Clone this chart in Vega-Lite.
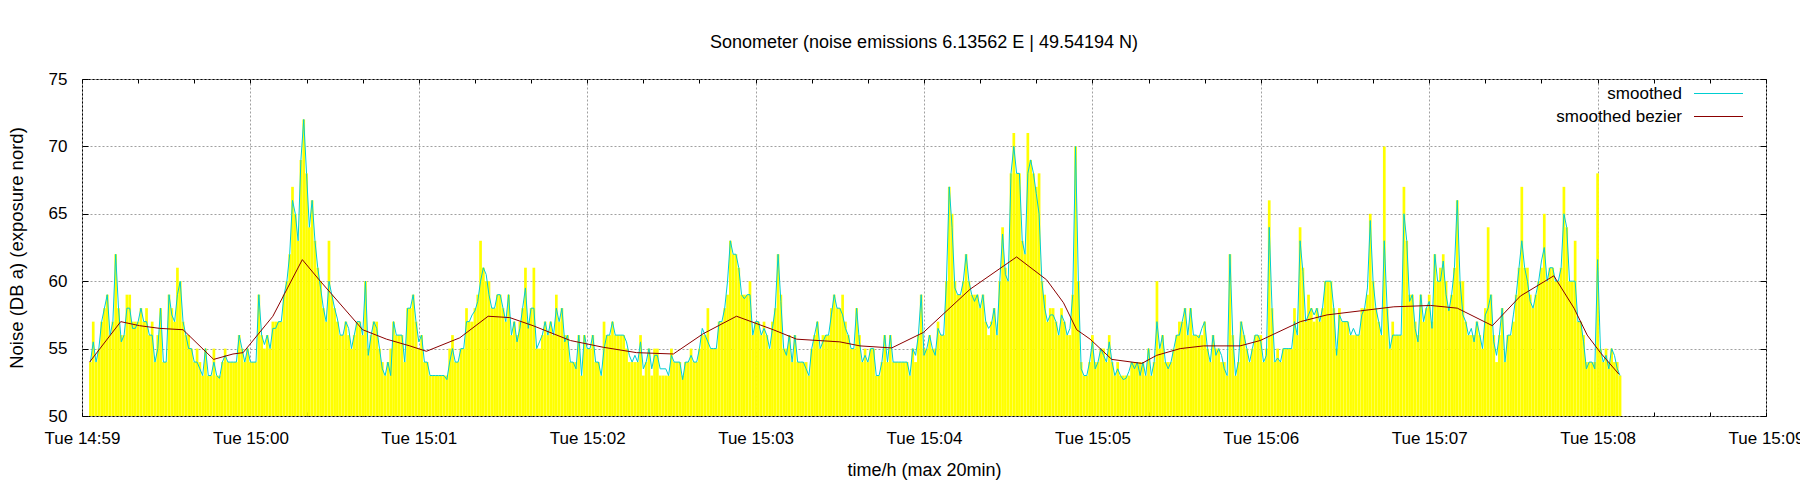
{
  "$schema": "https://vega.github.io/schema/vega-lite/v6.json",
  "width": 1684,
  "height": 337,
  "autosize": {"type": "none"},
  "padding": {"left": 82, "top": 79, "right": 34, "bottom": 84},
  "background": "white",
  "config": {
    "view": {"stroke": "black", "strokeWidth": 1},
    "font": "Liberation Sans"
  },
  "title": {
    "text": "Sonometer (noise emissions 6.13562 E | 49.54194 N)",
    "font": "Liberation Sans",
    "fontSize": 18,
    "fontWeight": "normal",
    "color": "black",
    "anchor": "middle",
    "offset": 18
  },
  "datasets": {
    "noise": [
      {"t":3,"v":54,"s":54},{"t":4,"v":57,"s":55.5},{"t":5,"v":54,"s":54},{"t":6,"v":55,"s":55},{"t":7,"v":57,"s":57},{"t":8,"v":58,"s":58},{"t":9,"v":59,"s":59},{"t":10,"v":56,"s":56},{"t":11,"v":57,"s":57},{"t":12,"v":62,"s":62},
      {"t":13,"v":58,"s":58},{"t":14,"v":56,"s":55.5},{"t":15,"v":56,"s":56},{"t":16,"v":59,"s":58},{"t":17,"v":59,"s":58},{"t":18,"v":57,"s":56.5},{"t":19,"v":57,"s":56.5},{"t":20,"v":57,"s":57},{"t":21,"v":58,"s":58},{"t":22,"v":57,"s":57},
      {"t":23,"v":58,"s":57},{"t":24,"v":56,"s":56},{"t":25,"v":57,"s":56},{"t":26,"v":54,"s":54},{"t":27,"v":56,"s":55},{"t":28,"v":58,"s":58},{"t":29,"v":54,"s":54},{"t":30,"v":54,"s":54},{"t":31,"v":59,"s":59},{"t":32,"v":58,"s":57.5},
      {"t":33,"v":57,"s":57},{"t":34,"v":61,"s":59},{"t":35,"v":60,"s":60},{"t":36,"v":57,"s":57},{"t":37,"v":56,"s":56},{"t":38,"v":56,"s":55},{"t":39,"v":55,"s":55},{"t":40,"v":54,"s":54},{"t":41,"v":55,"s":54},{"t":42,"v":54,"s":53.5},
      {"t":43,"v":53,"s":53},{"t":44,"v":55,"s":55},{"t":45,"v":53,"s":53},{"t":46,"v":53,"s":53},{"t":47,"v":55,"s":54},{"t":48,"v":53,"s":53},{"t":49,"v":53,"s":52.8},{"t":50,"v":54,"s":54},{"t":51,"v":55,"s":54.5},{"t":52,"v":54,"s":54},
      {"t":53,"v":54,"s":54},{"t":54,"v":54,"s":54},{"t":55,"v":54,"s":54},{"t":56,"v":56,"s":56},{"t":57,"v":55,"s":55},{"t":58,"v":54,"s":54},{"t":59,"v":55,"s":55},{"t":60,"v":54,"s":54},{"t":61,"v":54,"s":54},{"t":62,"v":54,"s":54},
      {"t":63,"v":59,"s":59},{"t":64,"v":56,"s":56},{"t":65,"v":55,"s":55.3},{"t":66,"v":56,"s":56},{"t":67,"v":55,"s":55},{"t":68,"v":57,"s":56.5},{"t":69,"v":57,"s":56.5},{"t":70,"v":57,"s":57},{"t":71,"v":57,"s":57},{"t":72,"v":59,"s":59},
      {"t":73,"v":60,"s":60},{"t":74,"v":62,"s":62},{"t":75,"v":67,"s":66},{"t":76,"v":65,"s":65},{"t":77,"v":63,"s":63},{"t":78,"v":69,"s":69},{"t":79,"v":72,"s":72},{"t":80,"v":68,"s":68},{"t":81,"v":64,"s":64},{"t":82,"v":66,"s":66},
      {"t":83,"v":63,"s":63},{"t":84,"v":61,"s":61},{"t":85,"v":60,"s":59.5},{"t":86,"v":58,"s":58},{"t":87,"v":57,"s":57},{"t":88,"v":63,"s":60},{"t":89,"v":59,"s":59},{"t":90,"v":58,"s":58},{"t":91,"v":57,"s":57.2},{"t":92,"v":56,"s":56},
      {"t":93,"v":56,"s":56},{"t":94,"v":57,"s":57},{"t":95,"v":56,"s":56.5},{"t":96,"v":55,"s":55},{"t":97,"v":56,"s":56},{"t":98,"v":57,"s":57},{"t":99,"v":57,"s":57},{"t":100,"v":56,"s":56},{"t":101,"v":60,"s":60},{"t":102,"v":55,"s":54.5},
      {"t":103,"v":56,"s":56},{"t":104,"v":57,"s":57},{"t":105,"v":57,"s":56.5},{"t":106,"v":55,"s":55},{"t":107,"v":54,"s":53.5},{"t":108,"v":53,"s":53},{"t":109,"v":54,"s":54},{"t":110,"v":55,"s":53},{"t":111,"v":57,"s":57},{"t":112,"v":56,"s":56},
      {"t":113,"v":56,"s":56},{"t":114,"v":56,"s":56},{"t":115,"v":54,"s":54},{"t":116,"v":58,"s":58},{"t":117,"v":58,"s":58},{"t":118,"v":59,"s":59},{"t":119,"v":57,"s":57},{"t":120,"v":55,"s":55.5},{"t":121,"v":56,"s":56},{"t":122,"v":54,"s":54},
      {"t":123,"v":54,"s":54},{"t":124,"v":53,"s":53},{"t":125,"v":53,"s":53},{"t":126,"v":53,"s":53},{"t":127,"v":53,"s":53},{"t":128,"v":53,"s":53},{"t":129,"v":53,"s":53},{"t":130,"v":53,"s":52.7},{"t":131,"v":55,"s":54},{"t":132,"v":56,"s":55},
      {"t":133,"v":54,"s":54},{"t":134,"v":54,"s":54},{"t":135,"v":55,"s":55},{"t":136,"v":55,"s":55},{"t":137,"v":58,"s":57},{"t":138,"v":57,"s":57},{"t":139,"v":57,"s":57.5},{"t":140,"v":58,"s":57.8},{"t":141,"v":59,"s":58.5},{"t":142,"v":63,"s":60},
      {"t":143,"v":61,"s":61},{"t":144,"v":60,"s":60.5},{"t":145,"v":60,"s":59},{"t":146,"v":58,"s":58},{"t":147,"v":58,"s":58},{"t":148,"v":59,"s":59},{"t":149,"v":59,"s":59},{"t":150,"v":58,"s":58},{"t":151,"v":57,"s":57},{"t":152,"v":59,"s":59},
      {"t":153,"v":56,"s":56},{"t":154,"v":57,"s":57},{"t":155,"v":56,"s":55.5},{"t":156,"v":57,"s":56.5},{"t":157,"v":58,"s":58},{"t":158,"v":61,"s":59.5},{"t":159,"v":57,"s":56.5},{"t":160,"v":58,"s":58},{"t":161,"v":61,"s":58},{"t":162,"v":55,"s":55},
      {"t":163,"v":55,"s":55.5},{"t":164,"v":56,"s":56},{"t":165,"v":57,"s":57},{"t":166,"v":56,"s":56},{"t":167,"v":57,"s":57},{"t":168,"v":56,"s":56},{"t":169,"v":59,"s":58},{"t":170,"v":57,"s":57},{"t":171,"v":58,"s":58},{"t":172,"v":56,"s":55.5},
      {"t":173,"v":56,"s":56},{"t":174,"v":54,"s":54},{"t":175,"v":54,"s":54},{"t":176,"v":54,"s":53.5},{"t":177,"v":56,"s":56},{"t":178,"v":53,"s":53},{"t":179,"v":56,"s":56},{"t":180,"v":55,"s":55},{"t":181,"v":55,"s":55},{"t":182,"v":56,"s":56},
      {"t":183,"v":54,"s":54},{"t":184,"v":54,"s":54},{"t":185,"v":53,"s":53},{"t":186,"v":57,"s":55},{"t":187,"v":56,"s":56},{"t":188,"v":56,"s":56},{"t":189,"v":57,"s":57},{"t":190,"v":56,"s":56},{"t":191,"v":56,"s":56},{"t":192,"v":56,"s":56},
      {"t":193,"v":56,"s":56},{"t":194,"v":55,"s":55.5},{"t":195,"v":54,"s":54.5},{"t":196,"v":54,"s":54},{"t":197,"v":54,"s":54.5},{"t":198,"v":54,"s":54},{"t":199,"v":56,"s":55.5},{"t":200,"v":53,"s":53.5},{"t":201,"v":54,"s":54},{"t":202,"v":55,"s":55},
      {"t":203,"v":53,"s":53.5},{"t":204,"v":55,"s":54.5},{"t":205,"v":55,"s":54.5},{"t":206,"v":53,"s":53.5},{"t":207,"v":53,"s":53.5},{"t":208,"v":53,"s":53.5},{"t":209,"v":53,"s":53},{"t":210,"v":55,"s":54.5},{"t":211,"v":54,"s":54},{"t":212,"v":54,"s":54},
      {"t":213,"v":54,"s":54},{"t":214,"v":53,"s":52.7},{"t":215,"v":54,"s":54},{"t":216,"v":54,"s":54},{"t":217,"v":55,"s":54.5},{"t":218,"v":54,"s":54},{"t":219,"v":54,"s":54},{"t":220,"v":55,"s":55},{"t":221,"v":56,"s":56.5},{"t":222,"v":56,"s":56},
      {"t":223,"v":58,"s":55.5},{"t":224,"v":55,"s":55},{"t":225,"v":55,"s":55},{"t":226,"v":55,"s":55},{"t":227,"v":57,"s":57},{"t":228,"v":57,"s":57},{"t":229,"v":58,"s":58},{"t":230,"v":59,"s":60},{"t":231,"v":63,"s":63},{"t":232,"v":62,"s":62},
      {"t":233,"v":62,"s":62},{"t":234,"v":61,"s":61},{"t":235,"v":59,"s":59},{"t":236,"v":59,"s":58.7},{"t":237,"v":59,"s":59},{"t":238,"v":60,"s":59},{"t":239,"v":56,"s":56},{"t":240,"v":57,"s":57},{"t":241,"v":57,"s":57},{"t":242,"v":56,"s":56},
      {"t":243,"v":57,"s":56.5},{"t":244,"v":56,"s":56},{"t":245,"v":55,"s":55},{"t":246,"v":57,"s":56.5},{"t":247,"v":58,"s":58},{"t":248,"v":62,"s":62},{"t":249,"v":59,"s":58.5},{"t":250,"v":55,"s":55},{"t":251,"v":55,"s":54.5},{"t":252,"v":56,"s":56},
      {"t":253,"v":54,"s":54},{"t":254,"v":56,"s":56},{"t":255,"v":54,"s":54},{"t":256,"v":54,"s":54},{"t":257,"v":54,"s":54},{"t":258,"v":54,"s":53.5},{"t":259,"v":53,"s":53},{"t":260,"v":55,"s":55},{"t":261,"v":56,"s":56},{"t":262,"v":57,"s":57},
      {"t":263,"v":55,"s":55},{"t":264,"v":56,"s":55.5},{"t":265,"v":56,"s":56},{"t":266,"v":56,"s":56},{"t":267,"v":58,"s":57.5},{"t":268,"v":59,"s":59},{"t":269,"v":58,"s":58},{"t":270,"v":58,"s":58},{"t":271,"v":59,"s":57.5},{"t":272,"v":57,"s":56.5},
      {"t":273,"v":56,"s":56},{"t":274,"v":55,"s":55},{"t":275,"v":55,"s":55},{"t":276,"v":58,"s":58},{"t":277,"v":56,"s":55.5},{"t":278,"v":54,"s":54},{"t":279,"v":55,"s":54.5},{"t":280,"v":54,"s":54},{"t":281,"v":55,"s":55},{"t":282,"v":55,"s":55},
      {"t":283,"v":53,"s":53},{"t":284,"v":53,"s":53},{"t":285,"v":54,"s":54},{"t":286,"v":56,"s":56},{"t":287,"v":54,"s":54},{"t":288,"v":56,"s":56},{"t":289,"v":54,"s":54},{"t":290,"v":54,"s":54},{"t":291,"v":54,"s":54},{"t":292,"v":54,"s":54},
      {"t":293,"v":54,"s":54},{"t":294,"v":54,"s":54},{"t":295,"v":53,"s":53},{"t":296,"v":55,"s":55},{"t":297,"v":54,"s":54.5},{"t":298,"v":56,"s":56},{"t":299,"v":59,"s":59},{"t":300,"v":55,"s":54.5},{"t":301,"v":55,"s":55},{"t":302,"v":56,"s":56},
      {"t":303,"v":55,"s":55},{"t":304,"v":55,"s":54.5},{"t":305,"v":57,"s":56.5},{"t":306,"v":56,"s":56},{"t":307,"v":56,"s":56},{"t":308,"v":60,"s":60},{"t":309,"v":67,"s":67},{"t":310,"v":65,"s":64},{"t":311,"v":60,"s":59.5},{"t":312,"v":59,"s":59},
      {"t":313,"v":59,"s":59},{"t":314,"v":60,"s":60},{"t":315,"v":62,"s":62},{"t":316,"v":60,"s":60},{"t":317,"v":59,"s":59},{"t":318,"v":59,"s":58.5},{"t":319,"v":59,"s":59},{"t":320,"v":58,"s":58},{"t":321,"v":59,"s":59},{"t":322,"v":57,"s":57},
      {"t":323,"v":56,"s":56.5},{"t":324,"v":57,"s":56.8},{"t":325,"v":58,"s":58},{"t":326,"v":56,"s":56},{"t":327,"v":60,"s":60},{"t":328,"v":64,"s":63.5},{"t":329,"v":61,"s":60.5},{"t":330,"v":60,"s":60},{"t":331,"v":68,"s":68},{"t":332,"v":71,"s":70},
      {"t":333,"v":68,"s":68},{"t":334,"v":68,"s":68},{"t":335,"v":63,"s":63},{"t":336,"v":62,"s":62},{"t":337,"v":71,"s":68},{"t":338,"v":69,"s":69},{"t":339,"v":68,"s":68},{"t":340,"v":67,"s":66.5},{"t":341,"v":68,"s":65},{"t":342,"v":60,"s":60},
      {"t":343,"v":59,"s":58},{"t":344,"v":57,"s":57},{"t":345,"v":58,"s":57.5},{"t":346,"v":58,"s":57.5},{"t":347,"v":57,"s":57},{"t":348,"v":56,"s":56},{"t":349,"v":58,"s":57.5},{"t":350,"v":57,"s":57},{"t":351,"v":56,"s":56},{"t":352,"v":56,"s":56.5},
      {"t":353,"v":59,"s":59},{"t":354,"v":70,"s":70},{"t":355,"v":60,"s":60},{"t":356,"v":54,"s":53.5},{"t":357,"v":53,"s":53},{"t":358,"v":53,"s":53},{"t":359,"v":54,"s":54},{"t":360,"v":56,"s":55.5},{"t":361,"v":54,"s":53.5},{"t":362,"v":54,"s":54},
      {"t":363,"v":55,"s":55},{"t":364,"v":55,"s":54.5},{"t":365,"v":54,"s":54},{"t":366,"v":56,"s":55.5},{"t":367,"v":54,"s":54},{"t":368,"v":53,"s":53},{"t":369,"v":54,"s":53.5},{"t":370,"v":53,"s":53},{"t":371,"v":53,"s":52.7},{"t":372,"v":53,"s":52.8},
      {"t":373,"v":53,"s":53.3},{"t":374,"v":54,"s":54},{"t":375,"v":54,"s":53.5},{"t":376,"v":54,"s":54},{"t":377,"v":54,"s":53},{"t":378,"v":54,"s":54},{"t":379,"v":53,"s":53},{"t":380,"v":55,"s":55},{"t":381,"v":53,"s":53},{"t":382,"v":54,"s":54},
      {"t":383,"v":60,"s":57},{"t":384,"v":55,"s":55},{"t":385,"v":56,"s":56},{"t":386,"v":54,"s":54},{"t":387,"v":54,"s":53.5},{"t":388,"v":54,"s":54},{"t":389,"v":55,"s":55},{"t":390,"v":56,"s":56},{"t":391,"v":57,"s":56},{"t":392,"v":57,"s":57},
      {"t":393,"v":58,"s":58},{"t":394,"v":56,"s":56},{"t":395,"v":58,"s":58},{"t":396,"v":56,"s":56},{"t":397,"v":56,"s":56},{"t":398,"v":56,"s":55.8},{"t":399,"v":56,"s":56.5},{"t":400,"v":57,"s":57},{"t":401,"v":55,"s":55},{"t":402,"v":54,"s":54},
      {"t":403,"v":56,"s":56},{"t":404,"v":55,"s":54.5},{"t":405,"v":55,"s":55},{"t":406,"v":54,"s":54.5},{"t":407,"v":54,"s":53.5},{"t":408,"v":53,"s":53},{"t":409,"v":62,"s":62},{"t":410,"v":56,"s":56},{"t":411,"v":53,"s":53},{"t":412,"v":54,"s":54},
      {"t":413,"v":57,"s":57},{"t":414,"v":56,"s":56},{"t":415,"v":55,"s":55},{"t":416,"v":54,"s":54},{"t":417,"v":55,"s":55},{"t":418,"v":56,"s":56},{"t":419,"v":56,"s":56},{"t":420,"v":56,"s":55.5},{"t":421,"v":54,"s":54},{"t":422,"v":55,"s":54.5},
      {"t":423,"v":66,"s":64},{"t":424,"v":58,"s":58},{"t":425,"v":54,"s":54},{"t":426,"v":55,"s":54.3},{"t":427,"v":54,"s":54},{"t":428,"v":55,"s":55},{"t":429,"v":55,"s":55},{"t":430,"v":55,"s":55},{"t":431,"v":55,"s":55},{"t":432,"v":58,"s":57},
      {"t":433,"v":56,"s":56},{"t":434,"v":64,"s":63},{"t":435,"v":61,"s":60.7},{"t":436,"v":57,"s":57},{"t":437,"v":59,"s":57.5},{"t":438,"v":58,"s":58},{"t":439,"v":57,"s":57.5},{"t":440,"v":58,"s":58},{"t":441,"v":57,"s":57},{"t":442,"v":58,"s":58},
      {"t":443,"v":60,"s":60},{"t":444,"v":60,"s":60},{"t":445,"v":60,"s":60},{"t":446,"v":58,"s":58},{"t":447,"v":55,"s":54.5},{"t":448,"v":58,"s":57.5},{"t":449,"v":57,"s":57},{"t":450,"v":57,"s":57},{"t":451,"v":57,"s":57},{"t":452,"v":56,"s":56},
      {"t":453,"v":56,"s":56.5},{"t":454,"v":56,"s":56},{"t":455,"v":56,"s":56},{"t":456,"v":58,"s":57.5},{"t":457,"v":58,"s":58},{"t":458,"v":59,"s":59.5},{"t":459,"v":65,"s":64.5},{"t":460,"v":60,"s":60},{"t":461,"v":58,"s":58},{"t":462,"v":57,"s":57},
      {"t":463,"v":56,"s":56},{"t":464,"v":70,"s":63},{"t":465,"v":58,"s":58},{"t":466,"v":55,"s":55},{"t":467,"v":57,"s":56},{"t":468,"v":56,"s":56},{"t":469,"v":56,"s":56},{"t":470,"v":56,"s":56},{"t":471,"v":67,"s":65},{"t":472,"v":63,"s":63},
      {"t":473,"v":59,"s":58.5},{"t":474,"v":59,"s":59},{"t":475,"v":57,"s":56.5},{"t":476,"v":56,"s":55.5},{"t":477,"v":59,"s":59},{"t":478,"v":57,"s":57},{"t":479,"v":58,"s":58},{"t":480,"v":59,"s":58.5},{"t":481,"v":57,"s":56.5},{"t":482,"v":62,"s":62},
      {"t":483,"v":60,"s":60},{"t":484,"v":61,"s":60},{"t":485,"v":62,"s":61.5},{"t":486,"v":60,"s":59},{"t":487,"v":58,"s":57.8},{"t":488,"v":59,"s":59},{"t":489,"v":61,"s":61},{"t":490,"v":66,"s":66},{"t":491,"v":60,"s":60},{"t":492,"v":60,"s":57.5},
      {"t":493,"v":57,"s":57},{"t":494,"v":56,"s":56},{"t":495,"v":56,"s":56.5},{"t":496,"v":56,"s":55.5},{"t":497,"v":57,"s":57},{"t":498,"v":56,"s":56},{"t":499,"v":55,"s":55},{"t":500,"v":58,"s":57.5},{"t":501,"v":64,"s":58},{"t":502,"v":59,"s":59},
      {"t":503,"v":56,"s":55.5},{"t":504,"v":54,"s":54.5},{"t":505,"v":56,"s":56},{"t":506,"v":58,"s":58},{"t":507,"v":54,"s":54},{"t":508,"v":56,"s":56},{"t":509,"v":56,"s":56},{"t":510,"v":57,"s":57.5},{"t":511,"v":59,"s":59},{"t":512,"v":61,"s":61},
      {"t":513,"v":67,"s":63},{"t":514,"v":61,"s":61},{"t":515,"v":61,"s":60},{"t":516,"v":59,"s":58.5},{"t":517,"v":58,"s":58},{"t":518,"v":59,"s":59},{"t":519,"v":60,"s":60},{"t":520,"v":61,"s":61.5},{"t":521,"v":65,"s":62.5},{"t":522,"v":60,"s":60},
      {"t":523,"v":61,"s":61},{"t":524,"v":61,"s":61},{"t":525,"v":60,"s":60},{"t":526,"v":60,"s":60},{"t":527,"v":61,"s":61},{"t":528,"v":67,"s":65},{"t":529,"v":64,"s":64},{"t":530,"v":60,"s":60},{"t":531,"v":60,"s":60},{"t":532,"v":63,"s":60},
      {"t":533,"v":57,"s":57},{"t":534,"v":57,"s":57},{"t":535,"v":56,"s":55.5},{"t":536,"v":54,"s":53.5},{"t":537,"v":54,"s":54},{"t":538,"v":54,"s":54},{"t":539,"v":54,"s":53.5},{"t":540,"v":68,"s":61.6},{"t":541,"v":55,"s":55},{"t":542,"v":54,"s":54},
      {"t":543,"v":55,"s":54.5},{"t":544,"v":54,"s":53.5},{"t":545,"v":55,"s":55},{"t":546,"v":54,"s":54.5},{"t":547,"v":54,"s":53.5},{"t":548,"v":53,"s":53}
    ],
    "bezier": [
      {"t":2.7,"b":54},{"t":13.8,"b":57},{"t":20.5,"b":56.7},{"t":27.7,"b":56.5},{"t":36,"b":56.4},{"t":46.9,"b":54.2},{"t":53.8,"b":54.6},{"t":57.4,"b":54.7},
      {"t":68,"b":57.4},{"t":78.5,"b":61.6},{"t":84.5,"b":60.1},{"t":100,"b":56.4},{"t":108.5,"b":55.7},{"t":116.8,"b":55.2},{"t":122.7,"b":54.8},{"t":134.6,"b":55.8},
      {"t":144.7,"b":57.4},{"t":152.4,"b":57.3},{"t":160.7,"b":56.7},{"t":174,"b":55.6},{"t":185.7,"b":55.1},{"t":197.6,"b":54.7},{"t":210.7,"b":54.6},{"t":221.3,"b":56.1},
      {"t":233.2,"b":57.4},{"t":246.3,"b":56.4},{"t":254.6,"b":55.7},{"t":270,"b":55.5},{"t":277.2,"b":55.2},{"t":288.5,"b":55.05},{"t":299.8,"b":56.2},{"t":316.4,"b":59.4},
      {"t":333,"b":61.8},{"t":343.7,"b":60.1},{"t":349.7,"b":58.4},{"t":354.4,"b":56.4},{"t":359.2,"b":55.7},{"t":366.9,"b":54.2},{"t":377.6,"b":53.9},{"t":382.9,"b":54.5},
      {"t":391.3,"b":55},{"t":399.6,"b":55.2},{"t":412.6,"b":55.2},{"t":419.8,"b":55.6},{"t":434.1,"b":57},{"t":443.6,"b":57.5},{"t":455.5,"b":57.8},{"t":467.4,"b":58.1},
      {"t":480.5,"b":58.2},{"t":490,"b":58},{"t":502.5,"b":56.7},{"t":512.5,"b":58.9},{"t":524.4,"b":60.4},{"t":531.6,"b":58},{"t":536.3,"b":56},{"t":541,"b":54.7},{"t":547.6,"b":53.1}
    ]
  },
  "layer": [
    {
      "data": {"name": "noise"},
      "mark": {"type": "rule", "color": "#ffff00", "strokeWidth": 2.7},
      "encoding": {
        "x": {
          "field": "t",
          "type": "quantitative",
          "scale": {"domain": [0, 600], "nice": false, "zero": false},
          "axis": {
            "orient": "bottom",
            "values": [0, 60, 120, 180, 240, 300, 360, 420, 480, 540, 600],
            "labelExpr": "'Tue ' + (datum.value < 60 ? '14:59' : '15:0' + (datum.value / 60 - 1))",
            "ticks": false,
            "domain": false,
            "grid": true,
            "gridColor": "#a0a0a0",
            "gridDash": [2, 2],
            "gridWidth": 1,
            "labelFont": "Liberation Sans",
            "labelFontSize": 17,
            "labelColor": "black",
            "labelPadding": 14,
            "labelFlush": false,
            "labelOverlap": false,
            "title": "time/h (max 20min)",
            "titleFont": "Liberation Sans",
            "titleFontSize": 18,
            "titleFontWeight": "normal",
            "titleColor": "black",
            "titlePadding": 15
          }
        },
        "y": {
          "field": "v",
          "type": "quantitative",
          "scale": {"domain": [50, 75], "nice": false, "zero": false},
          "axis": {
            "orient": "left",
            "values": [50, 55, 60, 65, 70, 75],
            "ticks": false,
            "domain": false,
            "grid": true,
            "gridColor": "#a0a0a0",
            "gridDash": [2, 2],
            "gridWidth": 1,
            "labelFont": "Liberation Sans",
            "labelFontSize": 17,
            "labelColor": "black",
            "labelPadding": 15,
            "labelFlush": false,
            "title": "Noise (DB a) (exposure nord)",
            "titleFont": "Liberation Sans",
            "titleFontSize": 18.5,
            "titleFontWeight": "normal",
            "titleColor": "black",
            "titlePadding": 22
          }
        },
        "y2": {"datum": 50}
      }
    },
    {
      "data": {"name": "noise"},
      "mark": {"type": "line", "strokeWidth": 1},
      "encoding": {
        "x": {
          "field": "t",
          "type": "quantitative",
          "axis": {
            "orient": "top",
            "values": [0, 20, 40, 60, 80, 100, 120, 140, 160, 180, 200, 220, 240, 260, 280, 300, 320, 340, 360, 380, 400, 420, 440, 460, 480, 500, 520, 540, 560, 580, 600],
            "ticks": true,
            "tickSize": -4,
            "tickColor": "black",
            "labels": false,
            "domain": false,
            "grid": false,
            "title": null
          }
        },
        "y": {
          "field": "s",
          "type": "quantitative",
          "axis": {
            "orient": "right",
            "values": [50, 55, 60, 65, 70, 75],
            "ticks": true,
            "tickSize": -6,
            "tickColor": "black",
            "labels": false,
            "domain": false,
            "grid": false,
            "title": null
          }
        },
        "color": {
          "datum": "smoothed",
          "type": "nominal",
          "scale": {"domain": ["smoothed", "smoothed bezier"], "range": ["#00ced1", "#8b0000"]},
          "legend": {
            "orient": "none",
            "legendX": 1628,
            "legendY": 6,
            "title": null,
            "padding": 0,
            "symbolType": "M-4.9,0H4.9",
            "symbolSize": 100,
            "symbolStrokeWidth": 1,
            "labelAlign": "right",
            "labelOffset": -45,
            "labelFont": "Liberation Sans",
            "labelFontSize": 17,
            "labelColor": "black",
            "labelLimit": 400,
            "rowPadding": 5
          }
        }
      }
    },
    {
      "data": {"name": "bezier"},
      "mark": {"type": "line", "strokeWidth": 1},
      "encoding": {
        "x": {
          "field": "t",
          "type": "quantitative",
          "axis": {
            "orient": "bottom",
            "values": [0, 20, 40, 60, 80, 100, 120, 140, 160, 180, 200, 220, 240, 260, 280, 300, 320, 340, 360, 380, 400, 420, 440, 460, 480, 500, 520, 540, 560, 580, 600],
            "ticks": true,
            "tickSize": -4,
            "tickColor": "black",
            "labels": false,
            "domain": false,
            "grid": false,
            "title": null
          }
        },
        "y": {
          "field": "b",
          "type": "quantitative",
          "axis": {
            "orient": "left",
            "values": [50, 55, 60, 65, 70, 75],
            "ticks": true,
            "tickSize": -6,
            "tickColor": "black",
            "labels": false,
            "domain": false,
            "grid": false,
            "title": null
          }
        },
        "color": {"datum": "smoothed bezier", "type": "nominal"}
      }
    }
  ],
  "resolve": {"axis": {"x": "independent", "y": "independent"}}
}
